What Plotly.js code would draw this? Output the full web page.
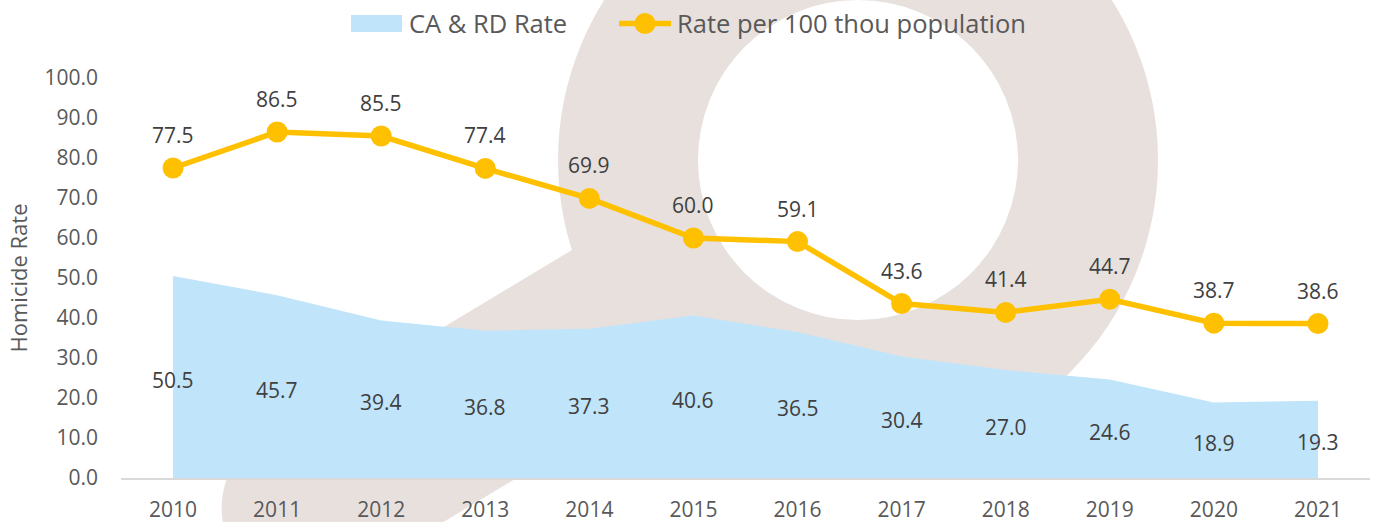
<!DOCTYPE html>
<html>
<head>
<meta charset="utf-8">
<script src="https://cdn.plot.ly/plotly-3.0.1.min.js"></script>
<style>html,body{margin:0;padding:0;background:#fff;}#chart{width:1374px;height:522px;}</style>
</head>
<body>
<div id="chart"></div>
<script>
// ---- data ----
const years = ["2010","2011","2012","2013","2014","2015","2016","2017","2018","2019","2020","2021"];
const caRdRate = [50.5,45.7,39.4,36.8,37.3,40.6,36.5,30.4,27.0,24.6,18.9,19.3];
const ratePer100k = [77.5,86.5,85.5,77.4,69.9,60.0,59.1,43.6,41.4,44.7,38.7,38.6];
const seriesNames = ["CA & RD Rate", "Rate per 100 thou population"];
const yTitle = "Homicide Rate";

// ---- layout geometry ----
const W = 1374, H = 522;
const M = {l:121, r:4, t:78, b:44};
const PW = W - M.l - M.r, PH = H - M.t - M.b;
const px = v => (v - M.l) / PW;
const py = v => (H - M.b - v) / PH;

const FONT = "'Open Sans', 'Liberation Sans', sans-serif";
const TXT = "#595959", LBL = "#404040";
const BEIGE = "#E7E0DD";
const BLUE = "#C0E4FA", GOLD = "#FFC000";

// watermark (magnifying glass) decoration, pixel geometry
const cx = 858, cy = 160, rOut = 300, rIn = 160;
const nx = 0.515, ny = 0.857, hw = 83.4;
const S = [864.7, 171.1], E = [305, 508];
const poly = [
  [S[0]+hw*nx, S[1]+hw*ny], [S[0]-hw*nx, S[1]-hw*ny],
  [E[0]-hw*nx, E[1]-hw*ny], [E[0]+hw*nx, E[1]+hw*ny]
];
const pathStr = "M " + poly.map(p => px(p[0]).toFixed(5) + "," + py(p[1]).toFixed(5)).join(" L ") + " Z";
function circ(x, y, r, color, layer) {
  return {type:"circle", xref:"paper", yref:"paper", layer: layer || "below",
    x0:px(x-r), x1:px(x+r), y0:py(y+r), y1:py(y-r),
    fillcolor:color, line:{width:0}};
}
const shapes = [
  circ(cx, cy, rOut, BEIGE),
  {type:"path", xref:"paper", yref:"paper", layer:"below", path:pathStr, fillcolor:BEIGE, line:{width:0}},
  circ(E[0], E[1], hw, BEIGE),
  circ(cx, cy, rIn, "#FFFFFF"),
  // legend symbols
  {type:"rect", xref:"paper", yref:"paper", layer:"above",
    x0:px(351), x1:px(402), y0:py(32), y1:py(15), fillcolor:BLUE, line:{width:0}},
  {type:"line", xref:"paper", yref:"paper", layer:"above",
    x0:px(619), x1:px(671), y0:py(23.5), y1:py(23.5), line:{color:GOLD, width:5.5}},
  circ(645, 23.5, 10.5, GOLD, "above")
];

const idx = years.map((_, i) => i);

const traces = [
  {
    x: idx, y: caRdRate, name: seriesNames[0], type: "scatter", mode: "lines",
    fill: "tozeroy", fillcolor: BLUE, line: {width: 0, color: BLUE},
    hoverinfo: "skip"
  },
  {
    x: idx, y: ratePer100k, name: seriesNames[1], type: "scatter", mode: "lines+markers",
    line: {color: GOLD, width: 5.5},
    marker: {color: GOLD, size: 21}
  }
];

const annotations = [];
idx.forEach(i => {
  annotations.push({x: i, y: ratePer100k[i], xref: "x", yref: "y", text: ratePer100k[i].toFixed(1), showarrow: false,
    yshift: 33, font: {family: FONT, size: 21, color: LBL}});
  annotations.push({x: i, y: caRdRate[i] / 2, xref: "x", yref: "y", text: caRdRate[i].toFixed(1), showarrow: false,
    yshift: -3, font: {family: FONT, size: 21, color: LBL}});
});
// legend labels
annotations.push({xref: "paper", yref: "paper", x: px(407), y: py(23), xanchor: "left", yanchor: "middle",
  text: seriesNames[0], showarrow: false, font: {family: FONT, size: 25.5, color: TXT}});
annotations.push({xref: "paper", yref: "paper", x: px(675), y: py(23), xanchor: "left", yanchor: "middle",
  text: seriesNames[1], showarrow: false, font: {family: FONT, size: 25.5, color: TXT}});

const layout = {
  width: W, height: H,
  margin: M,
  paper_bgcolor: "#FFFFFF",
  plot_bgcolor: "rgba(0,0,0,0)",
  font: {family: FONT, color: TXT},
  showlegend: false,
  xaxis: {
    range: [-0.5, 11.5], showgrid: false, zeroline: false,
    showline: true, linecolor: "#D9D9D9", linewidth: 2,
    tickmode: "array", tickvals: idx, ticktext: years,
    ticks: "", ticklabelstandoff: 12,
    tickfont: {family: FONT, size: 21, color: TXT}, fixedrange: true
  },
  yaxis: {
    range: [0, 100], dtick: 10, tick0: 0, tickformat: ".1f",
    showgrid: false, zeroline: false, showline: false, ticks: "",
    ticklabelstandoff: 22,
    tickfont: {family: FONT, size: 21, color: TXT},
    title: {text: yTitle, font: {family: FONT, size: 22, color: TXT}, standoff: 10},
    automargin: false, fixedrange: true
  },
  shapes: shapes,
  annotations: annotations
};

Plotly.newPlot("chart", traces, layout, {displayModeBar: false, staticPlot: true});
</script>
</body>
</html>
